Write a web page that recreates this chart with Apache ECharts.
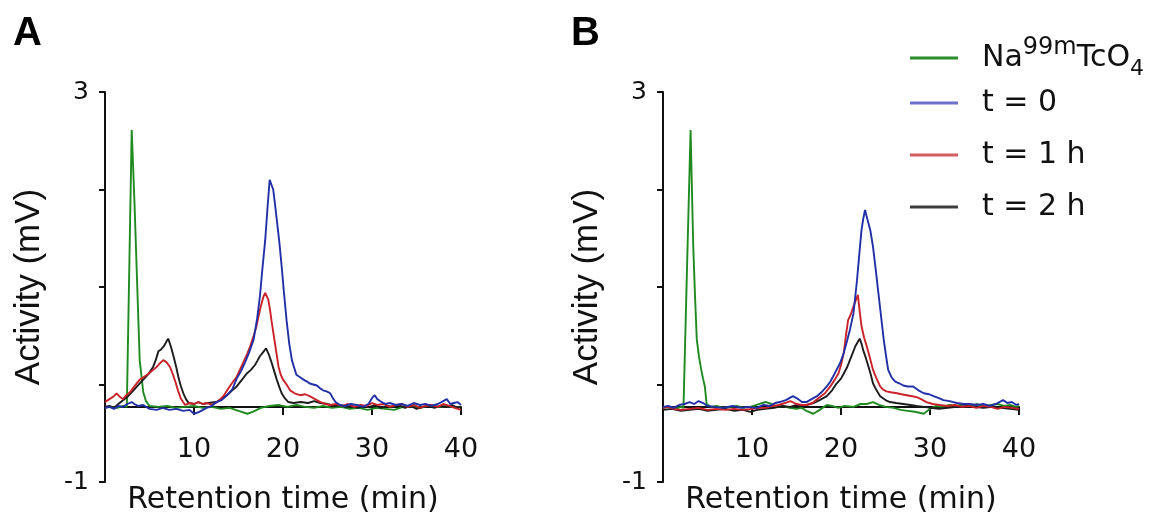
<!DOCTYPE html>
<html><head><meta charset="utf-8">
<script src="https://cdn.jsdelivr.net/npm/echarts@6/dist/echarts.min.js"></script>
<style>html,body{margin:0;padding:0;background:#fff}#c{width:1160px;height:520px}</style>
</head><body><div id="c"></div>
<script>
// ---------- DATA ----------
const SERIES_NAMES = ['Na99mTcO4', 't = 0', 't = 1 h', 't = 2 h'];
const PANEL_LABELS = ['A', 'B'];
const X_MIN = 0, X_MAX = 40, X_STEP = 10;
const Y_MIN = -1, Y_MAX = 3, Y_STEP = 1;
const Y_LABELED = [3, -1];
const X_AXIS_CROSS = -0.31;   // value of y where the x axis is drawn

// Panel A  [retention time (min), activity (mV)]
const A_tc = [[0,-0.24],[0.7,-0.23],[1.4,-0.24],[2.0,-0.22],[2.45,-0.23],[2.75,1.3],[3.0,2.61],[3.3,1.9],[3.6,1.07],[3.9,0.25],[4.3,-0.08],[4.6,-0.17],[5.0,-0.22],[6,-0.23],[7,-0.22],[8,-0.24],[9,-0.23],[10,-0.22],[11,-0.24],[12,-0.23],[13,-0.25],[14,-0.24],[15,-0.27],[16,-0.3],[16.6,-0.28],[17.5,-0.24],[18.5,-0.22],[19.5,-0.21],[20.5,-0.23],[21.5,-0.21],[22.5,-0.23],[23.5,-0.24],[24.5,-0.22],[25.5,-0.24],[26.5,-0.23],[27.5,-0.25],[28.5,-0.24],[29.5,-0.26],[30.5,-0.24],[31.5,-0.25],[32.5,-0.26],[33.5,-0.23],[34.5,-0.22],[35.5,-0.24],[36.5,-0.21],[37.5,-0.23],[38.5,-0.22],[39.5,-0.24],[40,-0.23]];
const A_t0 = [[0,-0.24],[0.5,-0.23],[1,-0.25],[1.5,-0.22],[2,-0.23],[2.5,-0.2],[3,-0.18],[3.3,-0.2],[3.7,-0.22],[4.3,-0.21],[5,-0.25],[5.8,-0.26],[6.5,-0.24],[7.2,-0.26],[8,-0.25],[8.8,-0.27],[9.5,-0.26],[10,-0.3],[10.6,-0.28],[11.4,-0.24],[12,-0.22],[12.5,-0.18],[13.1,-0.16],[13.7,-0.11],[14.3,-0.05],[14.8,0.06],[15.3,0.14],[15.7,0.22],[16.2,0.33],[16.7,0.46],[17.1,0.68],[17.4,0.9],[17.7,1.2],[18.0,1.48],[18.25,1.8],[18.5,2.1],[18.7,2.08],[18.9,2.0],[19.1,1.85],[19.3,1.69],[19.6,1.45],[19.85,1.21],[20.1,0.95],[20.4,0.66],[20.7,0.42],[21.0,0.25],[21.5,0.1],[22.0,0.07],[22.3,0.05],[22.7,0.03],[23.0,0.01],[23.4,0.0],[23.8,-0.01],[24.2,-0.04],[24.5,-0.06],[24.9,-0.07],[25.3,-0.09],[25.6,-0.14],[25.9,-0.18],[26.4,-0.21],[27,-0.22],[27.6,-0.2],[28.3,-0.21],[29,-0.23],[29.6,-0.2],[30.0,-0.14],[30.3,-0.11],[30.6,-0.15],[30.9,-0.17],[31.5,-0.2],[32,-0.19],[32.7,-0.21],[33.3,-0.2],[34,-0.22],[34.7,-0.19],[35.4,-0.21],[36,-0.2],[36.7,-0.22],[37.4,-0.2],[38,-0.17],[38.4,-0.15],[38.8,-0.2],[39.2,-0.19],[39.6,-0.18],[40,-0.21]];
const A_t1 = [[0,-0.18],[0.5,-0.15],[1,-0.12],[1.3,-0.09],[1.6,-0.12],[2,-0.15],[2.4,-0.11],[2.8,-0.08],[3.3,-0.02],[3.9,0.05],[4.4,0.08],[4.9,0.11],[5.4,0.15],[5.8,0.18],[6.2,0.22],[6.55,0.25],[6.9,0.23],[7.3,0.18],[7.6,0.11],[7.9,0.03],[8.2,-0.06],[8.5,-0.14],[9.0,-0.21],[9.5,-0.19],[10,-0.2],[10.5,-0.18],[11,-0.2],[11.5,-0.19],[12,-0.21],[12.6,-0.18],[13.3,-0.12],[14.0,-0.02],[14.8,0.08],[15.5,0.22],[16.0,0.32],[16.3,0.39],[16.7,0.5],[17.0,0.59],[17.3,0.72],[17.5,0.8],[17.8,0.9],[18.0,0.94],[18.2,0.93],[18.35,0.87],[18.55,0.76],[18.7,0.66],[18.9,0.54],[19.1,0.42],[19.3,0.3],[19.5,0.18],[19.75,0.1],[20.0,0.05],[20.4,0.0],[20.8,-0.06],[21.3,-0.09],[21.9,-0.11],[22.5,-0.1],[23.0,-0.12],[23.6,-0.15],[24.2,-0.18],[24.8,-0.2],[25.3,-0.21],[26,-0.2],[26.7,-0.22],[27.3,-0.2],[28,-0.23],[28.7,-0.21],[29.4,-0.22],[30,-0.19],[30.6,-0.21],[31.3,-0.2],[32,-0.23],[32.7,-0.21],[33.4,-0.2],[34,-0.23],[34.7,-0.21],[35.4,-0.24],[36,-0.22],[36.7,-0.21],[37.4,-0.23],[38,-0.2],[38.7,-0.22],[39.3,-0.24],[40,-0.26]];
const A_t2 = [[0,-0.23],[0.5,-0.22],[1,-0.24],[1.5,-0.2],[2.06,-0.16],[2.6,-0.12],[3.2,-0.06],[3.7,-0.01],[4.3,0.05],[4.9,0.11],[5.4,0.18],[5.7,0.25],[6.0,0.34],[6.3,0.36],[6.6,0.39],[6.9,0.44],[7.1,0.47],[7.4,0.39],[7.7,0.29],[8.0,0.18],[8.24,0.08],[8.5,-0.01],[8.8,-0.09],[9.1,-0.15],[9.4,-0.19],[10,-0.2],[10.5,-0.18],[11,-0.2],[11.6,-0.19],[12.5,-0.18],[13.1,-0.15],[13.7,-0.11],[14.3,-0.06],[14.8,-0.02],[15.4,0.05],[15.9,0.11],[16.4,0.15],[16.85,0.2],[17.1,0.24],[17.4,0.29],[17.75,0.33],[18.1,0.37],[18.4,0.31],[18.7,0.23],[19.0,0.14],[19.3,0.05],[19.6,-0.03],[19.85,-0.09],[20.2,-0.14],[20.6,-0.18],[21.2,-0.19],[22,-0.18],[22.8,-0.19],[23.5,-0.17],[24.2,-0.19],[25,-0.2],[25.7,-0.22],[26.4,-0.21],[27,-0.23],[27.7,-0.22],[28.4,-0.24],[29,-0.22],[29.7,-0.23],[30.4,-0.21],[31,-0.24],[31.7,-0.22],[32.4,-0.23],[33,-0.21],[33.7,-0.24],[34.4,-0.22],[35,-0.25],[35.7,-0.23],[36.4,-0.22],[37,-0.24],[37.7,-0.22],[38.4,-0.23],[39,-0.21],[39.6,-0.24],[40,-0.23]];

// Panel B
const B_tc = [[0,-0.24],[0.7,-0.23],[1.4,-0.25],[2.0,-0.23],[2.3,-0.24],[2.7,1.2],[3.1,2.61],[3.4,1.41],[3.6,0.9],[3.8,0.46],[4.05,0.28],[4.3,0.15],[4.5,0.06],[4.7,-0.02],[4.9,-0.2],[5.4,-0.23],[6,-0.22],[6.8,-0.24],[7.5,-0.23],[8.3,-0.22],[9,-0.24],[9.8,-0.23],[10.5,-0.21],[11.1,-0.19],[11.6,-0.18],[12.2,-0.2],[12.8,-0.23],[13.5,-0.22],[14.2,-0.24],[15,-0.25],[15.6,-0.24],[16.1,-0.27],[16.9,-0.3],[17.6,-0.26],[18.4,-0.21],[19,-0.22],[19.7,-0.24],[20.4,-0.22],[21.4,-0.23],[22.2,-0.2],[22.9,-0.2],[23.6,-0.18],[24.3,-0.21],[25,-0.23],[25.9,-0.24],[26.7,-0.26],[27.5,-0.27],[28.3,-0.28],[29.3,-0.3],[30,-0.25],[30.7,-0.22],[31.4,-0.23],[32.2,-0.21],[33,-0.22],[33.8,-0.2],[34.6,-0.22],[35.3,-0.2],[36,-0.23],[36.8,-0.21],[37.6,-0.2],[38.3,-0.22],[39,-0.21],[39.7,-0.23],[40,-0.22]];
const B_t0 = [[0,-0.23],[0.6,-0.22],[1.2,-0.24],[1.8,-0.21],[2.4,-0.2],[3.0,-0.18],[3.5,-0.2],[4.0,-0.17],[4.5,-0.19],[5,-0.22],[5.8,-0.23],[6.8,-0.24],[7.8,-0.22],[8.8,-0.24],[9.5,-0.23],[10.5,-0.24],[11.3,-0.21],[12,-0.22],[12.6,-0.19],[13.1,-0.18],[13.8,-0.16],[14.6,-0.12],[15.2,-0.15],[15.6,-0.18],[16.1,-0.18],[16.7,-0.15],[17.3,-0.12],[17.8,-0.08],[18.4,-0.02],[18.8,0.03],[19.1,0.08],[19.5,0.15],[19.9,0.22],[20.3,0.32],[20.6,0.42],[21.0,0.56],[21.4,0.73],[21.8,1.07],[22.05,1.33],[22.3,1.58],[22.5,1.7],[22.7,1.79],[22.95,1.7],[23.3,1.58],[23.6,1.41],[23.9,1.18],[24.2,0.94],[24.5,0.7],[24.8,0.46],[25.05,0.3],[25.3,0.15],[25.7,0.07],[26.1,0.03],[26.6,0.01],[27.0,-0.01],[27.5,-0.02],[28.1,-0.02],[28.7,-0.06],[29.3,-0.09],[29.9,-0.1],[30.4,-0.12],[31,-0.14],[31.5,-0.16],[32.2,-0.17],[33,-0.19],[33.8,-0.2],[34.5,-0.2],[35.2,-0.21],[36,-0.2],[36.7,-0.22],[37.4,-0.2],[38.2,-0.16],[38.7,-0.19],[39.2,-0.18],[39.7,-0.21],[40,-0.2]];
const B_t1 = [[0,-0.24],[0.6,-0.23],[1.2,-0.25],[2,-0.26],[3,-0.25],[4,-0.24],[5,-0.26],[6,-0.25],[7,-0.26],[8,-0.25],[9,-0.26],[10,-0.25],[11,-0.24],[11.6,-0.24],[12.3,-0.22],[13,-0.21],[13.7,-0.19],[14.3,-0.17],[15,-0.2],[15.6,-0.21],[16.1,-0.21],[16.8,-0.19],[17.6,-0.13],[18.2,-0.09],[18.8,-0.02],[19.3,0.05],[19.7,0.11],[20.0,0.2],[20.3,0.32],[20.55,0.5],[20.8,0.66],[21.1,0.72],[21.4,0.8],[21.65,0.86],[21.9,0.92],[22.1,0.75],[22.3,0.6],[22.6,0.48],[22.9,0.39],[23.2,0.29],[23.6,0.15],[24.0,0.06],[24.4,-0.02],[24.7,-0.05],[25.1,-0.07],[25.6,-0.08],[26.3,-0.09],[26.8,-0.1],[27.4,-0.11],[28,-0.12],[28.5,-0.13],[29,-0.15],[29.6,-0.18],[30.3,-0.2],[31.1,-0.21],[32,-0.22],[32.8,-0.21],[33.6,-0.23],[34.4,-0.22],[35.2,-0.24],[36,-0.22],[36.8,-0.23],[37.6,-0.25],[38.4,-0.23],[39.2,-0.24],[40,-0.25]];
const B_t2 = [[0,-0.26],[1,-0.25],[2,-0.27],[3,-0.26],[4,-0.25],[5,-0.27],[6,-0.26],[7,-0.25],[8,-0.27],[9,-0.26],[9.8,-0.28],[10.6,-0.26],[11.5,-0.25],[12.5,-0.24],[13.4,-0.22],[14.3,-0.23],[15,-0.21],[15.8,-0.22],[16.9,-0.19],[17.6,-0.16],[18.4,-0.12],[19.0,-0.06],[19.5,0.01],[20.0,0.06],[20.3,0.11],[20.7,0.18],[21.0,0.25],[21.3,0.32],[21.6,0.39],[21.85,0.43],[22.1,0.47],[22.3,0.42],[22.5,0.35],[22.8,0.27],[23.1,0.18],[23.35,0.1],[23.6,0.01],[24.0,-0.06],[24.4,-0.12],[25,-0.16],[25.5,-0.18],[26.2,-0.19],[27,-0.2],[27.8,-0.21],[28.5,-0.22],[29.3,-0.23],[30.1,-0.24],[31,-0.25],[32,-0.24],[33,-0.23],[34,-0.22],[35,-0.23],[36,-0.24],[37,-0.23],[38,-0.24],[39,-0.25],[40,-0.26]];

// ---------- STYLE ----------
const COLORS = ['#1f8a1f', '#2230a8', '#c92228', '#1c1c1c'];
const LEGEND_COLORS = ['#2a8c2a', '#6f70cc', '#d25c5e', '#3c3c3c'];
const PANEL_LEFT = [105, 663];
const GRID_TOP = 92, GRID_H = 390, GRID_W = 356;
const SANS = 'DejaVu Sans', ARIAL = 'Liberation Sans';
const INK = '#111';

const panels = [
  { data: [A_tc, A_t0, A_t1, A_t2] },
  { data: [B_tc, B_t0, B_t1, B_t2] }
];

const axisH = GRID_H * (Y_MAX - X_AXIS_CROSS) / (Y_MAX - Y_MIN);

const grid = [], xAxis = [], yAxis = [], series = [];
panels.forEach((p, i) => {
  const left = PANEL_LEFT[i];
  const g0 = grid.length;
  grid.push({ left, top: GRID_TOP, width: GRID_W, height: GRID_H });
  grid.push({ left, top: GRID_TOP, width: GRID_W, height: axisH });
  xAxis.push({ gridIndex: g0, type: 'value', min: X_MIN, max: X_MAX, show: false });
  yAxis.push({
    gridIndex: g0, type: 'value', min: Y_MIN, max: Y_MAX, interval: Y_STEP,
    splitLine: { show: false },
    axisLine: { show: true, lineStyle: { color: INK, width: 2 } },
    axisTick: { show: true, inside: false, length: 6, lineStyle: { color: INK, width: 2 } },
    axisLabel: {
      margin: 16, fontFamily: SANS, fontSize: 25, color: INK,
      formatter: v => Y_LABELED.includes(v) ? String(v) : ''
    },
    name: 'Activity (mV)', nameLocation: 'middle', nameGap: 58, nameRotate: 90,
    nameTextStyle: { fontFamily: ARIAL, fontSize: 35, color: INK }
  });
  xAxis.push({
    gridIndex: g0 + 1, type: 'value', min: X_MIN, max: X_MAX, interval: X_STEP,
    splitLine: { show: false },
    axisLine: { show: true, onZero: false, lineStyle: { color: INK, width: 2 } },
    axisTick: { show: true, inside: false, length: 8, lineStyle: { color: INK, width: 2 } },
    axisLabel: {
      margin: 29, fontFamily: SANS, fontSize: 27, color: INK, showMaxLabel: true,
      formatter: v => v === 0 ? '' : String(v)
    },
    name: 'Retention time (min)', nameLocation: 'middle', nameGap: 78,
    nameTextStyle: { fontFamily: SANS, fontSize: 30, color: INK }
  });
  yAxis.push({ gridIndex: g0 + 1, type: 'value', min: Y_MIN, max: Y_MAX, show: false });

  const order = [0, 3, 2, 1];
  order.forEach(k => {
    series.push({
      type: 'line', name: SERIES_NAMES[k],
      xAxisIndex: g0, yAxisIndex: g0,
      data: p.data[k],
      showSymbol: false, symbol: 'none', smooth: false,
      lineStyle: { color: COLORS[k], width: 1.9 },
      itemStyle: { color: COLORS[k] },
      z: 2
    });
  });
});

const richLegend = {
  n: { fontFamily: SANS, fontSize: 30, lineHeight: 30, color: INK, verticalAlign: 'middle' },
  sup: { fontFamily: SANS, fontSize: 24, lineHeight: 24, color: INK, verticalAlign: 'middle', padding: [0, 0, 20, 0] },
  sub: { fontFamily: SANS, fontSize: 22, lineHeight: 22, color: INK, verticalAlign: 'middle', padding: [22, 0, 0, 0] }
};

const option = {
  backgroundColor: '#fff',
  animation: false,
  title: PANEL_LABELS.map((t, i) => ({
    text: t, left: [13, 571][i], top: 14, padding: 0,
    textStyle: { fontFamily: ARIAL, fontWeight: 'bold', fontSize: 40, color: '#000' }
  })),
  legend: [
    {
      left: 910, top: 36, orient: 'vertical', padding: 0,
      icon: 'rect', itemWidth: 48, itemHeight: 3,
      selectedMode: false,
      data: [{ name: SERIES_NAMES[0], itemStyle: { color: LEGEND_COLORS[0], borderWidth: 0 } }],
      formatter: () => '{n|Na}{sup|99m}{n|TcO}{sub|4}',
      textStyle: { padding: [0, 0, 0, 19], rich: richLegend }
    },
    {
      left: 910, top: 88, orient: 'vertical', padding: 0, itemGap: 22,
      icon: 'rect', itemWidth: 48, itemHeight: 3,
      selectedMode: false,
      data: [1, 2, 3].map(k => ({ name: SERIES_NAMES[k], itemStyle: { color: LEGEND_COLORS[k], borderWidth: 0 } })),
      textStyle: { fontFamily: SANS, fontSize: 30, lineHeight: 30, color: INK, padding: [0, 0, 0, 19] }
    }
  ],
  grid, xAxis, yAxis, series
};

const chart = echarts.init(document.getElementById('c'), null, { renderer: 'canvas' });
chart.setOption(option);
</script>
</body></html>
